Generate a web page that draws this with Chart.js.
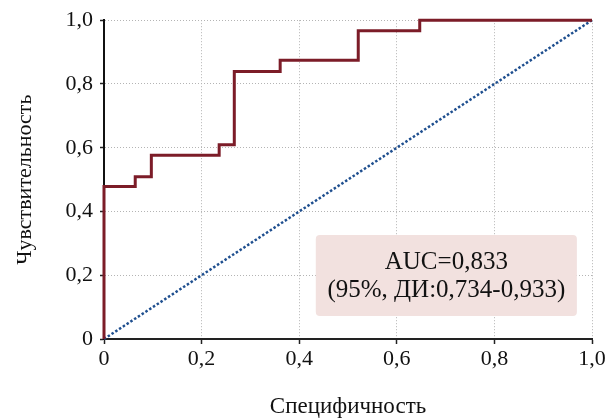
<!DOCTYPE html>
<html>
<head>
<meta charset="utf-8">
<script src="https://cdn.jsdelivr.net/npm/chart.js@4/dist/chart.umd.min.js"></script>
<style>
  html, body { margin: 0; padding: 0; background: #fff; }
  #wrap { width: 615px; height: 418px; }
</style>
</head>
<body>
<div id="wrap"><canvas id="rocChart"></canvas></div>
<script>
// ROC curve corner points (1 - specificity on x, sensitivity on y)
const rocX = [0, 0, 0.064, 0.097, 0.236, 0.267, 0.361, 0.521, 0.647, 1.0];
const rocY = [0, 0.478, 0.509, 0.576, 0.609, 0.839, 0.874, 0.967, 1.0, 1.0];
// reference line
const refX = [0, 1];
const refY = [0, 1];
const aucText = ['AUC=0,833', '(95%, ДИ:0,734-0,933)'];
const xTitle = 'Специфичность';
const yTitle = 'Чувствительность';

const serif = '"Liberation Serif", "Times New Roman", serif';

const fmt = v => v === 0 ? '0' : v.toFixed(1).replace('.', ',');

// box with AUC text, placed in data units
const aucBox = {
  id: 'aucBox',
  beforeDatasetsDraw(chart) {
    const { ctx, scales: { x, y } } = chart;
    const x0 = x.getPixelForValue(0.434), x1 = x.getPixelForValue(0.969);
    const y0 = y.getPixelForValue(0.326), y1 = y.getPixelForValue(0.072);
    ctx.save();
    ctx.fillStyle = '#f2e1df';
    ctx.beginPath();
    ctx.roundRect(x0, y0, x1 - x0, y1 - y0, 4);
    ctx.fill();
    ctx.fillStyle = '#111';
    ctx.font = '25px ' + serif;
    ctx.textAlign = 'center';
    ctx.textBaseline = 'middle';
    const cx = (x0 + x1) / 2;
    ctx.fillText(aucText[0], cx, y0 + 27);
    ctx.fillText(aucText[1], cx, y0 + 55);
    ctx.restore();
  }
};

const ctx = document.getElementById('rocChart').getContext('2d');
const rocChart = new Chart(ctx, {
  type: 'scatter',
  data: {
    datasets: [{
      label: 'ROC',
      data: rocX.map((v, i) => ({ x: v, y: rocY[i] })),
      showLine: true,
      stepped: true,
      borderColor: '#7c1c28',
      borderWidth: 3,
      pointRadius: 0,
      clip: false
    }, {
      label: 'ref',
      data: refX.map((v, i) => ({ x: v, y: refY[i] })),
      showLine: true,
      borderColor: '#1f4f8f',
      borderWidth: 2.5,
      borderDash: [2.5, 2],
      pointRadius: 0,
      clip: false
    }]
  },
  options: {
    responsive: true,
    maintainAspectRatio: false,
    animation: false,
    layout: { padding: { left: 4, right: 23, top: 19, bottom: 0 } },
    plugins: { legend: { display: false }, tooltip: { enabled: false } },
    scales: {
      x: {
        type: 'linear',
        min: 0,
        max: 1,
        afterFit: s => { s.height = 79; },
        ticks: { stepSize: 0.2, callback: fmt, color: '#111', font: { family: serif, size: 22 }, padding: 2, maxRotation: 0 },
        grid: { color: '#b4b4b4', lineWidth: 1, tickLength: 5, tickColor: '#222', tickWidth: 1.5, tickBorderDash: [] },
        border: { color: '#222', width: 2, dash: [1, 2] },
        title: { display: true, text: xTitle, color: '#111', font: { family: serif, size: 23 }, padding: { top: 0, bottom: -3 } }
      },
      y: {
        type: 'linear',
        min: 0,
        max: 1,
        afterFit: s => { s.width = 100; },
        ticks: { stepSize: 0.2, callback: fmt, color: '#111', font: { family: serif, size: 22 }, padding: 7 },
        grid: { color: '#b4b4b4', lineWidth: 1, tickLength: 4, tickColor: '#222', tickWidth: 1.5, tickBorderDash: [] },
        border: { color: '#111', width: 2, dash: [1, 2] },
        title: { display: true, text: yTitle, color: '#111', font: { family: serif, size: 22 }, padding: { top: 8, bottom: 0 } }
      }
    }
  },
  plugins: [aucBox]
});
</script>
</body>
</html>
